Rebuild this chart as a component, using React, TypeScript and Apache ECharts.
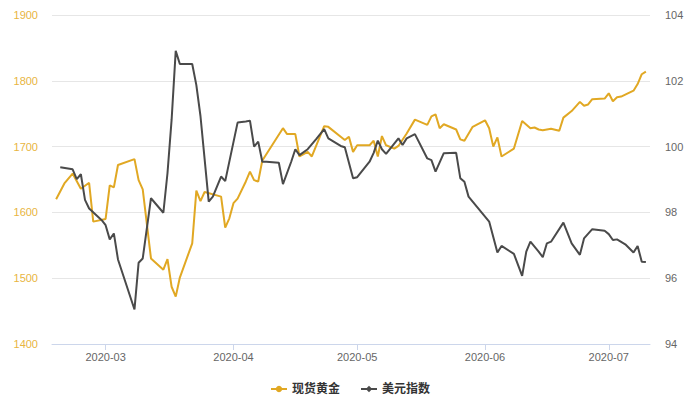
import React, { useEffect, useRef } from "react";
import * as echarts from "echarts";

const goldDates = [
  "2020-02-18","2020-02-20","2020-02-22","2020-02-24","2020-02-26","2020-02-27","2020-03-01","2020-03-02","2020-03-03","2020-03-04",
  "2020-03-08","2020-03-09","2020-03-10","2020-03-12","2020-03-15","2020-03-16","2020-03-17","2020-03-18","2020-03-19","2020-03-22",
  "2020-03-23","2020-03-24","2020-03-25","2020-03-29","2020-03-30","2020-03-31","2020-04-01","2020-04-02","2020-04-04","2020-04-05",
  "2020-04-06","2020-04-07","2020-04-08","2020-04-13","2020-04-14","2020-04-16","2020-04-17","2020-04-19","2020-04-20","2020-04-23",
  "2020-04-24","2020-04-27","2020-04-28","2020-04-29","2020-04-30","2020-05-01","2020-05-04","2020-05-05","2020-05-06","2020-05-07",
  "2020-05-08","2020-05-10","2020-05-11","2020-05-13","2020-05-15","2020-05-18","2020-05-19","2020-05-20","2020-05-21","2020-05-22",
  "2020-05-25","2020-05-26","2020-05-27","2020-05-29","2020-06-01","2020-06-02","2020-06-03","2020-06-04","2020-06-05","2020-06-08",
  "2020-06-10","2020-06-12","2020-06-13","2020-06-14","2020-06-15","2020-06-17","2020-06-19","2020-06-20","2020-06-22","2020-06-24",
  "2020-06-25","2020-06-26","2020-06-27","2020-06-30","2020-07-01","2020-07-02","2020-07-03","2020-07-04","2020-07-07","2020-07-08",
  "2020-07-09","2020-07-10"
];
const goldValues = [
  1620,1644,1659,1636,1645,1586,1590,1641,1638,1672,
  1681,1649,1635,1530,1513,1529,1487,1472,1501,1553,
  1633,1617,1631,1624,1577,1591,1614,1621,1647,1662,
  1649,1647,1679,1728,1719,1719,1685,1692,1685,1731,
  1730,1715,1710,1715,1692,1702,1702,1709,1685,1716,
  1702,1697,1701,1720,1741,1733,1746,1749,1728,1734,
  1726,1711,1709,1730,1740,1728,1700,1714,1685,1697,
  1739,1728,1729,1726,1725,1727,1724,1744,1754,1768,
  1762,1764,1772,1773,1781,1769,1775,1776,1785,1795,
  1810,1814
];

const usdDates = [
  "2020-02-19","2020-02-22","2020-02-23","2020-02-24","2020-02-25","2020-02-26","2020-02-29","2020-03-01","2020-03-02","2020-03-03",
  "2020-03-04","2020-03-08","2020-03-09","2020-03-10","2020-03-12","2020-03-15","2020-03-16","2020-03-17","2020-03-18","2020-03-19",
  "2020-03-22","2020-03-23","2020-03-24","2020-03-26","2020-03-27","2020-03-29","2020-03-30","2020-04-02","2020-04-04","2020-04-05",
  "2020-04-06","2020-04-07","2020-04-08","2020-04-09","2020-04-12","2020-04-13","2020-04-15","2020-04-16","2020-04-17","2020-04-19",
  "2020-04-21","2020-04-23","2020-04-24","2020-04-27","2020-04-28","2020-04-30","2020-05-01","2020-05-04","2020-05-05","2020-05-06",
  "2020-05-07","2020-05-08","2020-05-11","2020-05-12","2020-05-13","2020-05-15","2020-05-18","2020-05-19","2020-05-20","2020-05-22",
  "2020-05-25","2020-05-26","2020-05-27","2020-05-28","2020-06-02","2020-06-04","2020-06-05","2020-06-08","2020-06-10","2020-06-11",
  "2020-06-12","2020-06-14","2020-06-15","2020-06-16","2020-06-17","2020-06-20","2020-06-22","2020-06-24","2020-06-25","2020-06-27",
  "2020-06-30","2020-07-01","2020-07-02","2020-07-03","2020-07-05","2020-07-07","2020-07-08","2020-07-09","2020-07-10"
];
const usdValues = [
  99.37,99.31,99.01,99.16,98.38,98.12,97.77,97.61,97.18,97.36,
  96.57,95.05,96.47,96.6,98.43,97.99,99.19,100.81,102.91,102.51,
  102.51,101.87,100.93,98.33,98.48,99.09,98.95,100.73,100.76,100.79,
  100.0,100.15,99.54,99.54,99.51,98.86,99.54,99.92,99.74,99.92,
  100.22,100.53,100.25,100.02,99.98,99.04,99.07,99.54,99.81,100.18,
  99.92,99.78,100.25,100.05,100.25,100.38,99.64,99.59,99.24,99.8,
  99.81,99.04,98.93,98.48,97.72,96.78,96.98,96.74,96.07,96.81,
  97.11,96.81,96.64,97.06,97.11,97.69,97.06,96.71,97.21,97.49,
  97.44,97.34,97.16,97.18,97.03,96.78,96.98,96.5,96.49
];

const seriesNames = ["现货黄金", "美元指数"];
const xMin = "2020-02-17";
const xMax = "2020-07-11";

const GOLD = "#E1A823";
const DARK = "#4a4a4a";
const FONT = "Arial, 'Liberation Sans', 'Noto Sans CJK SC', sans-serif";

export default function App() {
  const ref = useRef<HTMLDivElement>(null);
  useEffect(() => {
    if (!ref.current) return;
    const chart = echarts.init(ref.current, undefined, { renderer: "svg" });
    const pad = (n: number) => (n < 10 ? "0" + n : "" + n);
    chart.setOption({
      animation: false,
      textStyle: { fontFamily: FONT },
      grid: { left: 52, right: 50, top: 15, bottom: 56, containLabel: false },
      legend: {
        top: 378,
        left: "center",
        itemWidth: 16,
        itemHeight: 8,
        itemGap: 20,
        textStyle: { fontSize: 12, fontWeight: "bold", color: "#333", fontFamily: FONT },
        data: seriesNames,
      },
      xAxis: {
        type: "time",
        min: xMin,
        max: xMax,
        splitNumber: 5,
        axisLine: { lineStyle: { color: "#ccd6eb", width: 1 } },
        axisTick: { show: true, length: 6, lineStyle: { color: "#ccd6eb" } },
        splitLine: { show: false },
        axisLabel: {
          color: "#666",
          fontSize: 11,
          margin: 7,
          showMinLabel: false,
          showMaxLabel: false,
          formatter: (v: number) => {
            const d = new Date(v);
            return d.getFullYear() + "-" + pad(d.getMonth() + 1);
          },
        },
      },
      yAxis: [
        {
          type: "value",
          min: 1400,
          max: 1900,
          interval: 100,
          axisLine: { show: false },
          axisTick: { show: false },
          splitLine: { lineStyle: { color: "#e6e6e6" } },
          axisLabel: { color: "#E8B541", fontSize: 11, margin: 14, formatter: (v: number) => String(v) },
        },
        {
          type: "value",
          min: 94,
          max: 104,
          interval: 2,
          axisLine: { show: false },
          axisTick: { show: false },
          splitLine: { show: false },
          axisLabel: { color: "#666666", fontSize: 11, margin: 15, formatter: (v: number) => String(v) },
        },
      ],
      series: [
        {
          name: seriesNames[0],
          type: "line",
          yAxisIndex: 0,
          showSymbol: false,
          symbol: "circle",
          symbolSize: 8,
          itemStyle: { color: GOLD },
          lineStyle: { color: GOLD, width: 2 },
          data: goldDates.map((d, i) => [d, goldValues[i]]),
        },
        {
          name: seriesNames[1],
          type: "line",
          yAxisIndex: 1,
          showSymbol: false,
          symbol: "diamond",
          symbolSize: 8,
          itemStyle: { color: DARK },
          lineStyle: { color: DARK, width: 2 },
          data: usdDates.map((d, i) => [d, usdValues[i]]),
        },
      ],
    });
    return () => chart.dispose();
  }, []);
  return (
    <div
      ref={ref}
      style={{ position: "absolute", left: 0, top: 0, width: 700, height: 400 }}
    />
  );
}
